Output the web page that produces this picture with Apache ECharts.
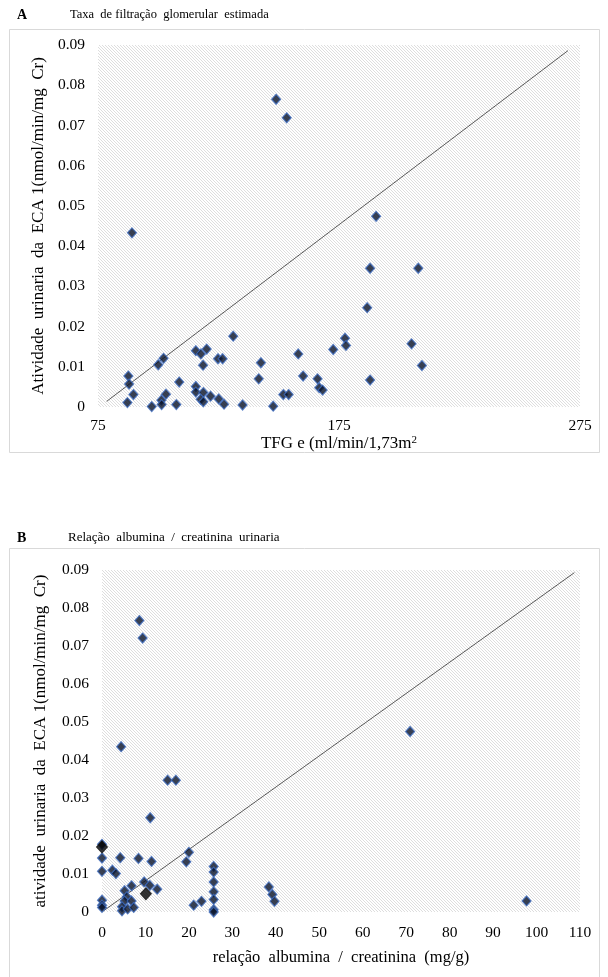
<!DOCTYPE html>
<html><head><meta charset="utf-8">
<script src="https://cdn.jsdelivr.net/npm/echarts@6/dist/echarts.min.js"></script>
<style>html,body{margin:0;padding:0;background:#fff}#c{width:608px;height:977px}</style>
</head><body><div id="c"></div>
<script>
// ---- Chart A: TFG e vs ECA1 activity ----
const tfgX = [148.9,153.3,89.1,87.6,87.9,89.7,87.2,97.3,100.0,102.2,101.3,101.4,103.2,107.5,108.7,115.6,117.7,120.1,118.6,115.6,115.6,118.7,117.6,118.7,121.7,125.1,127.3,124.8,126.7,131.1,135.0,141.7,142.6,147.7,151.9,154.1,158.1,160.1,166.1,166.8,168.2,172.6,177.5,177.9,190.4,187.9,207.9,186.7,205.1,209.4,187.9];
const tfgY = [0.0765,0.0719,0.0433,0.0077,0.0057,0.0031,0.0011,0.0001,0.0105,0.0121,0.0017,0.0006,0.0032,0.0006,0.0062,0.0140,0.0132,0.0144,0.0104,0.0051,0.0037,0.0036,0.0019,0.0013,0.0027,0.0020,0.0007,0.0120,0.0120,0.0176,0.0005,0.0070,0.0110,0.0002,0.0031,0.0031,0.0132,0.0077,0.0070,0.0048,0.0042,0.0143,0.0171,0.0153,0.0474,0.0345,0.0345,0.0247,0.0157,0.0103,0.0067];
const lineAX = [78.6, 270];
const lineAY = [0.0014, 0.0886];
const tfgTicks = [75, 175, 275];

// ---- Chart B: albumin/creatinine ratio vs ECA1 activity ----
const racX = [8.6,9.35,4.4,15.1,17.0,11.1,0,0,0,0,0,0,4.2,2.4,3.2,8.4,11.4,20.0,19.4,9.7,11.0,12.7,6.8,5.2,5.7,5.2,6.8,4.6,4.6,5.9,7.3,21.1,22.9,25.7,25.7,25.7,25.7,25.7,25.7,25.7,38.4,39.2,39.7,70.9,97.7];
const racY = [0.0767,0.0721,0.0435,0.0347,0.0347,0.0248,0.0178,0.0142,0.0107,0.0031,0.0018,0.0012,0.0143,0.0110,0.0101,0.0141,0.0133,0.0157,0.0132,0.0079,0.0070,0.0060,0.0069,0.0056,0.0040,0.0029,0.0029,0.0014,0.0003,0.0008,0.0012,0.0018,0.0028,0.0120,0.0105,0.0079,0.0053,0.0033,0.0006,0.0000,0.0066,0.0046,0.0028,0.0475,0.0029];
const racBlackX = [0, 10.1];
const racBlackY = [0.0171, 0.0048];
const lineBX = [0.35, 108.7];
const lineBY = [0.0003, 0.0893];

const zip = (xs, ys) => xs.map((x, i) => [x, ys[i]]);

function hatch() {
  const n = 3;
  const c = document.createElement('canvas');
  c.width = n; c.height = n;
  const ctx = c.getContext('2d');
  const img = ctx.createImageData(n, n);
  for (let y = 0; y < n; y++) for (let x = 0; x < n; x++) {
    const on = (((x - y) % n) + n) % n === 0;
    const v = on ? 222 : 255;
    const k = (y * n + x) * 4;
    img.data[k] = v; img.data[k+1] = v; img.data[k+2] = v; img.data[k+3] = 255;
  }
  ctx.putImageData(img, 0, 0);
  return c;
}
const pat = { image: hatch(), repeat: 'repeat' };
const F = 'Liberation Serif, Times New Roman, serif';

const markStyle = { color: '#081128', borderColor: '#3d6bbf', borderWidth: 1.2 };
const lbl = { fontFamily: F, fontSize: 15.5, color: '#000' };

function yAx(gi, name, gap) {
  return {
    type: 'value', gridIndex: gi, min: 0, max: 0.09, interval: 0.01,
    axisLine: { show: false }, axisTick: { show: false }, splitLine: { show: false },
    axisLabel: Object.assign({ margin: 13 }, lbl),
    name: name, nameLocation: 'middle', nameGap: gap,
    nameTextStyle: { fontFamily: F, fontSize: 17, color: '#000' }
  };
}

const chart = echarts.init(document.getElementById('c'), null, { renderer: 'canvas' });
chart.setOption({
  animation: false,
  backgroundColor: '#fff',
  graphic: [
    { type: 'rect', shape: { x: 9.5, y: 29.5, width: 590, height: 423 }, style: { fill: 'none', stroke: '#d9d9d9', lineWidth: 1 } },
    { type: 'rect', shape: { x: 9.5, y: 548.5, width: 590, height: 440 }, style: { fill: 'none', stroke: '#d9d9d9', lineWidth: 1 } },
    { type: 'text', left: 17, top: 8, style: { text: 'A', font: 'bold 14px ' + F, fill: '#000' } },
    { type: 'text', left: 70, top: 8, style: { text: 'Taxa  de filtração  glomerular  estimada', font: '12.5px ' + F, fill: '#000' } },
    { type: 'text', left: 17, top: 531, style: { text: 'B', font: 'bold 14px ' + F, fill: '#000' } },
    { type: 'text', left: 68, top: 531, style: { text: 'Relação  albumina  /  creatinina  urinaria', font: '13px ' + F, fill: '#000' } }
  ],
  grid: [
    { left: 98, right: 28, top: 45, height: 362, show: true, borderWidth: 0, backgroundColor: pat },
    { left: 102, right: 28, top: 570, height: 342, show: true, borderWidth: 0, backgroundColor: pat }
  ],
  xAxis: [
    {
      type: 'value', gridIndex: 0, min: 75, max: 275, interval: 25,
      axisLine: { show: false }, axisTick: { show: false }, splitLine: { show: false },
      axisLabel: Object.assign({ margin: 11, formatter: v => tfgTicks.includes(v) ? String(v) : '' }, lbl),
      name: 'TFG e (ml/min/1,73m{sup|2}', nameLocation: 'middle', nameGap: 21,
      nameTextStyle: { fontFamily: F, fontSize: 17, color: '#000', rich: { sup: { fontFamily: F, fontSize: 11, verticalAlign: 'top', color: '#000' } } }
    },
    {
      type: 'value', gridIndex: 1, min: 0, max: 110, interval: 10,
      axisLine: { show: false }, axisTick: { show: false }, splitLine: { show: false },
      axisLabel: Object.assign({ margin: 13 }, lbl),
      name: 'relação  albumina  /  creatinina  (mg/g)', nameLocation: 'middle', nameGap: 37,
      nameTextStyle: { fontFamily: F, fontSize: 16.5, color: '#000' }
    }
  ],
  yAxis: [
    yAx(0, 'Atividade  urinaria  da  ECA 1(nmol/min/mg  Cr)', 49),
    yAx(1, 'atividade  urinaria  da  ECA 1(nmol/min/mg  Cr)', 53)
  ],
  series: [
    { type: 'line', xAxisIndex: 0, yAxisIndex: 0, data: zip(lineAX, lineAY), showSymbol: false, symbol: 'none', lineStyle: { color: '#595959', width: 1 }, z: 1 },
    { type: 'scatter', xAxisIndex: 0, yAxisIndex: 0, data: zip(tfgX, tfgY), symbol: 'diamond', symbolSize: [9, 10], itemStyle: markStyle, z: 3 },
    { type: 'line', xAxisIndex: 1, yAxisIndex: 1, data: zip(lineBX, lineBY), showSymbol: false, symbol: 'none', lineStyle: { color: '#595959', width: 1 }, z: 1 },
    { type: 'scatter', xAxisIndex: 1, yAxisIndex: 1, data: zip(racX, racY), symbol: 'diamond', symbolSize: [9, 10], itemStyle: markStyle, z: 3 },
    { type: 'scatter', xAxisIndex: 1, yAxisIndex: 1, data: zip(racBlackX, racBlackY), symbol: 'diamond', symbolSize: [11, 12], itemStyle: { color: '#000', borderColor: '#111', borderWidth: 1 }, z: 4 }
  ]
});
</script>
</body></html>
